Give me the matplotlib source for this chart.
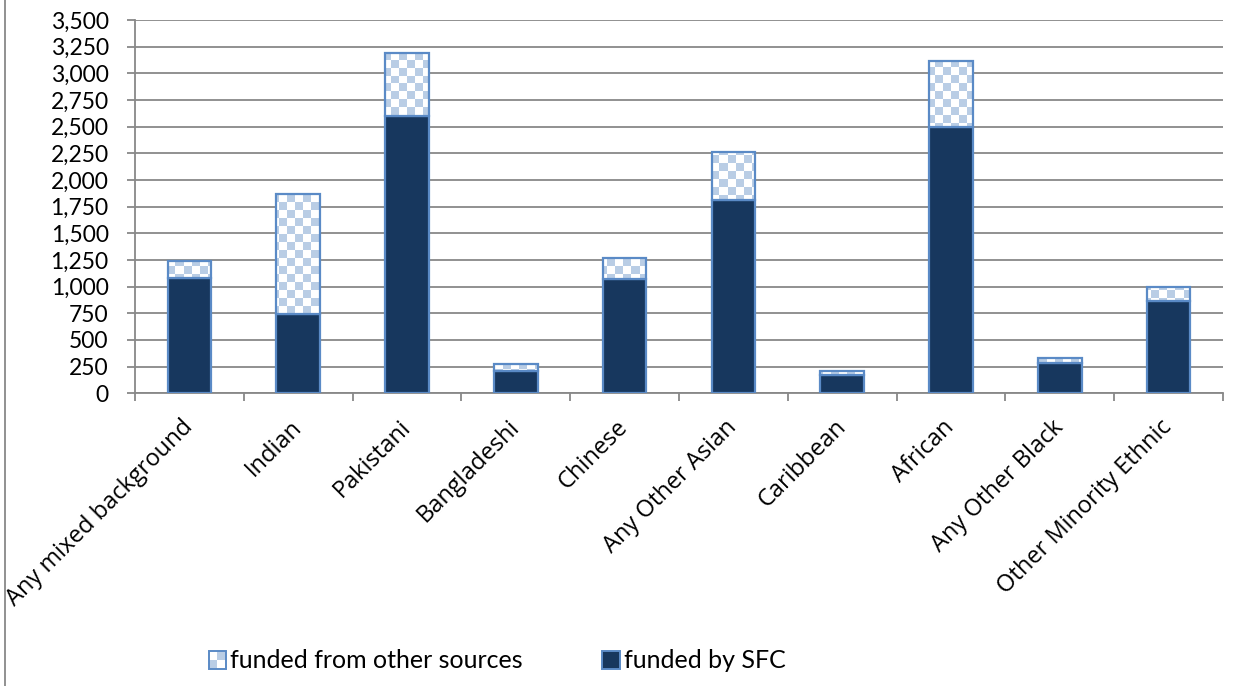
import numpy as np
import matplotlib
matplotlib.use("Agg")
import matplotlib.pyplot as plt
from matplotlib.colors import ListedColormap
from matplotlib.patches import Rectangle
from matplotlib.lines import Line2D
from matplotlib.legend_handler import HandlerBase

categories = ["Any mixed background", "Indian", "Pakistani", "Bangladeshi", "Chinese",
              "Any Other Asian", "Caribbean", "African", "Any Other Black",
              "Other Minority Ethnic"]
funded_sfc = [1085, 740, 2600, 205, 1070, 1815, 170, 2495, 285, 865]
funded_other = [155, 1130, 590, 70, 195, 450, 35, 625, 45, 130]
yticks = list(range(0, 3501, 250))
series_labels = ["funded from other sources", "funded by SFC"]

NAVY = "#17375e"
EDGE = "#5a8ac6"
CHECK = "#b9cde5"
GRID = "#888888"

fig = plt.figure(figsize=(12.47, 6.86), dpi=100)
ax = fig.add_axes([0.1083, 0.4267, 0.8724, 0.5441])

x = np.arange(len(categories))
width = 0.40

ax.bar(x, funded_sfc, width, color=NAVY, edgecolor=EDGE, linewidth=1.6, zorder=3)
other_bars = ax.bar(x, funded_other, width, bottom=funded_sfc, facecolor="none",
                    edgecolor=EDGE, linewidth=1.6, zorder=4)

# checkerboard fill for the upper segments, one pattern shared across the axes
nx, ny = 136, 47
checker = (np.add.outer(np.arange(ny), np.arange(nx)) % 2).astype(float)
cmap = ListedColormap(["white", CHECK])
for bar in other_bars:
    im = ax.imshow(checker, cmap=cmap, extent=(0, 1, 0, 1), transform=ax.transAxes,
                   interpolation="nearest", aspect="auto", zorder=3.5)
    im.set_clip_path(bar)

ax.set_xlim(-0.5, len(categories) - 0.5)
ax.set_ylim(0, 3500)
ax.set_yticks(yticks)
ax.set_yticklabels([f"{v:,}" for v in yticks], fontsize=16.5, family="Lato")
ax.yaxis.grid(True, color=GRID, linewidth=1.3)
ax.set_axisbelow(True)

ax.set_xticks(x)
ax.set_xticklabels(categories, rotation=45, ha="right", va="center",
                   rotation_mode="anchor", fontsize=17, family="Open Sans")
ax.set_xticks(np.arange(len(categories) + 1) - 0.5, minor=True)
ax.tick_params(axis="x", which="major", length=0, pad=22)
ax.tick_params(axis="x", which="minor", length=6, width=1.3, color=GRID)
ax.tick_params(axis="y", length=6, width=1.3, color=GRID, pad=13)

for side in ("top", "right"):
    ax.spines[side].set_visible(False)
for side in ("left", "bottom"):
    ax.spines[side].set_color(GRID)
    ax.spines[side].set_linewidth(1.3)


class CheckerHandler(HandlerBase):
    def create_artists(self, legend, orig_handle, xdescent, ydescent, width, height,
                       fontsize, trans):
        s = min(width, height)
        x0 = -xdescent + (width - s) / 2
        y0 = -ydescent + (height - s) / 2
        arts = []
        h = s / 2
        for i in range(2):
            for j in range(2):
                c = CHECK if (i + j) % 2 == 0 else "white"
                arts.append(Rectangle((x0 + i * h, y0 + j * h), h, h, facecolor=c,
                                      edgecolor="none", transform=trans))
        arts.append(Rectangle((x0, y0), s, s, facecolor="none", edgecolor=EDGE,
                              linewidth=1.4, transform=trans))
        return arts


class SolidHandler(HandlerBase):
    def create_artists(self, legend, orig_handle, xdescent, ydescent, width, height,
                       fontsize, trans):
        s = min(width, height)
        x0 = -xdescent + (width - s) / 2
        y0 = -ydescent + (height - s) / 2
        return [Rectangle((x0, y0), s, s, facecolor=NAVY, edgecolor=EDGE,
                          linewidth=1.4, transform=trans)]


h_other = Rectangle((0, 0), 1, 1)
h_sfc = Rectangle((0, 0), 1, 1)
fig.legend([h_other, h_sfc], series_labels, loc="center",
           bbox_to_anchor=(497 / 1247, 1 - 661 / 686), ncol=2, frameon=False,
           prop={"family": "Lato", "size": 18},
           handler_map={h_other: CheckerHandler(), h_sfc: SolidHandler()},
           handlelength=0.7, handleheight=0.7, handletextpad=0.15,
           columnspacing=3.2)

# chart frame edge on the left
fig.add_artist(Line2D([5 / 1247, 5 / 1247], [0, 1], color=GRID, linewidth=1.3,
                      transform=fig.transFigure))

fig.savefig("out.png", dpi=100)
